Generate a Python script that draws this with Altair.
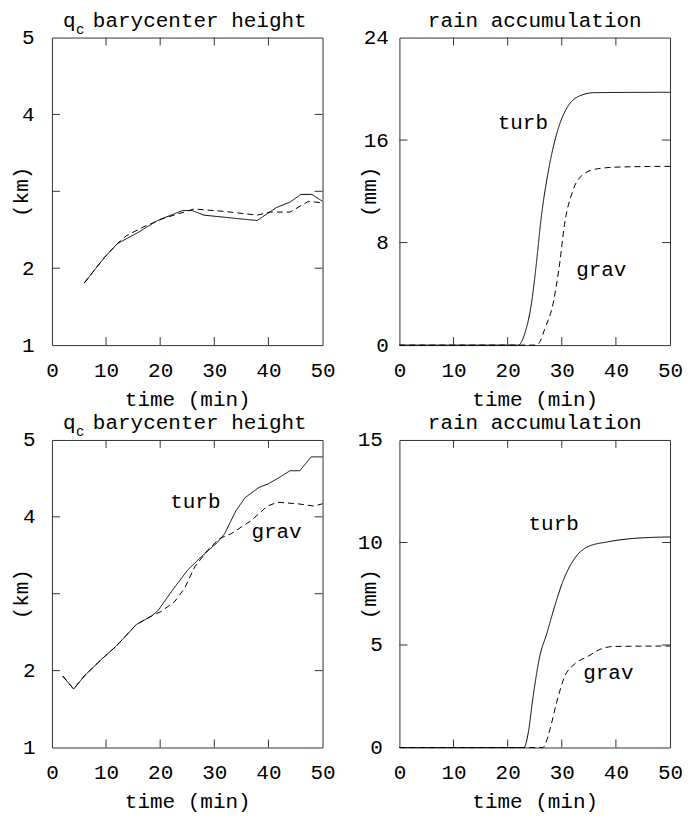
import altair as alt
import pandas as pd

FONT = "Liberation Mono"
FS = 21
W, H = 271, 308

# ---------------- data ----------------
# top-left: qc barycenter height (km), case 1
tl_turb_t = [6, 9.7, 12.1, 15.8, 19.5, 24.1, 25.9, 28.1, 37.9, 41.5, 44, 46, 48, 50]
tl_turb_v = [1.81, 2.14, 2.32, 2.46, 2.62, 2.75, 2.75, 2.69, 2.62, 2.79, 2.86, 2.96, 2.96, 2.87]
tl_grav_t = [6, 9.7, 12.1, 13.7, 17, 20.7, 24.4, 26.2, 31.7, 37.9, 40.3, 44, 47.4, 50]
tl_grav_v = [1.81, 2.14, 2.32, 2.42, 2.54, 2.65, 2.73, 2.77, 2.74, 2.69, 2.73, 2.73, 2.87, 2.85]

# top-right: rain accumulation (mm), case 1
tr_turb_t = [0, 22.0, 22.6, 23.2, 24.4, 25.3, 26.2, 27.4, 29.0, 30.8, 33.6, 36.0, 50]
tr_turb_v = [0, 0, 0.3, 0.95, 3.26, 6.35, 9.95, 13.3, 16.4, 18.4, 19.5, 19.7, 19.73]
tr_grav_t = [0, 25.4, 26.0, 26.8, 28.4, 29.6, 30.5, 32.0, 33.9, 36.6, 40.9, 50]
tr_grav_v = [0, 0, 0.3, 1.2, 3.26, 6.35, 9.4, 12.0, 13.3, 13.76, 13.9, 13.95]

# bottom-left: qc barycenter height (km), case 2
bl_turb_t = [2, 4, 6.1, 9.2, 11.9, 15.6, 18.4, 19.6, 22.1, 25.1, 27.6, 30.6, 31.9, 34.0,
             35.7, 38.2, 40.0, 42.2, 44.0, 45.8, 47.9, 50]
bl_turb_v = [1.93, 1.76, 1.94, 2.15, 2.32, 2.60, 2.71, 2.78, 3.03, 3.31, 3.48, 3.67, 3.78, 4.08,
             4.25, 4.38, 4.43, 4.52, 4.60, 4.60, 4.78, 4.78]
bl_grav_t = [2, 4, 6.1, 9.2, 11.9, 15.6, 18.4, 20.2, 22.7, 24.5, 26.4, 28.8, 31.0, 33.1,
             36.8, 39.8, 41.7, 45.4, 48.4, 50]
bl_grav_v = [1.93, 1.76, 1.94, 2.15, 2.32, 2.60, 2.71, 2.77, 2.90, 3.07, 3.35, 3.57, 3.72, 3.78,
             3.95, 4.14, 4.19, 4.17, 4.14, 4.17]

# bottom-right: rain accumulation (mm), case 2
br_turb_t = [0, 23.0, 23.8, 24.7, 25.9, 27.2, 28.7, 30.2, 32.4, 34.8, 38.5, 43.4, 50]
br_turb_v = [0, 0, 0.71, 2.48, 4.41, 5.53, 6.90, 8.10, 9.23, 9.79, 10.03, 10.2, 10.27]
br_grav_t = [0, 26.5, 27.8, 29.0, 30.5, 32.4, 34.8, 37.3, 39.7, 50]
br_grav_v = [0, 0, 0.87, 2.15, 3.44, 4.08, 4.44, 4.81, 4.93, 4.95]

# in-plot labels
tr_lab = ["turb", "grav"]; tr_lab_t = [22.8, 37.3]; tr_lab_v = [16.9, 5.4]
bl_lab = ["turb", "grav"]; bl_lab_t = [26.5, 41.5]; bl_lab_v = [4.11, 3.72]
br_lab = ["turb", "grav"]; br_lab_t = [28.5, 38.6]; br_lab_v = [10.6, 3.36]

x_labels = [0, 10, 20, 30, 40, 50]
x_ticks = [10, 20, 30, 40]
km_labels = [1, 2, 4, 5]
km_ticks = [2, 3, 4]
mm1_labels = [0, 8, 16, 24]
mm1_ticks = [8, 16]
mm2_labels = [0, 5, 10, 15]
mm2_ticks = [5, 10]


def lines_df(tt, tv, gt, gv):
    return pd.DataFrame({
        "t": list(tt) + list(gt),
        "v": list(tv) + list(gv),
        "series": ["turb"] * len(tt) + ["grav"] * len(gt),
    })


def panel(df, interp, ydom, ylabels, yticks, ytitle, lab_pad, labels=None, km_title=True):
    xenc = alt.X("t:Q", scale=alt.Scale(domain=[0, 50], nice=False),
                 axis=alt.Axis(values=x_labels, title="time (min)", ticks=False, domain=False,
                               grid=False, labelPadding=14, labelFlush=False, labelOverlap=False,
                               titleX=W / 2, titleY=54, titleAlign="center",
                               titleBaseline="middle"))
    yenc = alt.Y("v:Q", scale=alt.Scale(domain=ydom, nice=False, zero=False),
                 axis=alt.Axis(values=ylabels, title=ytitle, ticks=False, domain=False,
                               grid=False, labelPadding=lab_pad, labelFlush=False,
                               labelOverlap=False, titleX=-30, titleY=H / 2, titleAngle=-90,
                               titleAlign="center", titleBaseline="middle"))
    lines = alt.Chart(df).mark_line(color="black", strokeWidth=1, interpolate=interp).encode(
        x=xenc, y=yenc,
        strokeDash=alt.StrokeDash("series:N",
                                  scale=alt.Scale(domain=["turb", "grav"], range=[[1, 0], [6, 4]]),
                                  legend=None),
    )
    xt = pd.DataFrame({"t": x_ticks})
    yt = pd.DataFrame({"v": yticks})
    tick_col = "#333333"
    xb = alt.Chart(xt).mark_rule(color=tick_col, strokeWidth=1).encode(
        x=xenc, y=alt.value(H), y2=alt.value(H - 8))
    xtop = alt.Chart(xt).mark_rule(color=tick_col, strokeWidth=1).encode(
        x=xenc, y=alt.value(0), y2=alt.value(8))
    yl = alt.Chart(yt).mark_rule(color=tick_col, strokeWidth=1).encode(
        y=yenc, x=alt.value(0), x2=alt.value(8))
    yr = alt.Chart(yt).mark_rule(color=tick_col, strokeWidth=1).encode(
        y=yenc, x=alt.value(W), x2=alt.value(W - 8))
    layers = [lines, xb, xtop, yl, yr]
    if labels is not None:
        ldf = pd.DataFrame({"t": labels[1], "v": labels[2], "label": labels[0]})
        layers.append(alt.Chart(ldf).mark_text(font=FONT, fontSize=FS, color="black",
                                               align="center", baseline="alphabetic").encode(
            x=xenc, y=yenc, text="label:N"))
    if km_title:
        layers.append(alt.Chart(pd.DataFrame({"s": ["q"]})).mark_text(
            font=FONT, fontSize=FS, color="black", align="left", baseline="alphabetic").encode(
            text="s:N", x=alt.value(11), y=alt.value(-11)))
        layers.append(alt.Chart(pd.DataFrame({"s": ["c"]})).mark_text(
            font=FONT, fontSize=14, color="black", align="left", baseline="alphabetic").encode(
            text="s:N", x=alt.value(24), y=alt.value(-4)))
        layers.append(alt.Chart(pd.DataFrame({"s": ["barycenter height"]})).mark_text(
            font=FONT, fontSize=FS, color="black", align="left", baseline="alphabetic").encode(
            text="s:N", x=alt.value(41), y=alt.value(-11)))
    else:
        layers.append(alt.Chart(pd.DataFrame({"s": ["rain accumulation"]})).mark_text(
            font=FONT, fontSize=FS, color="black", align="center", baseline="alphabetic").encode(
            text="s:N", x=alt.value(W / 2), y=alt.value(-11)))
    return alt.layer(*layers).properties(width=W, height=H)


p1 = panel(lines_df(tl_turb_t, tl_turb_v, tl_grav_t, tl_grav_v), "linear", [1, 5],
           km_labels, km_ticks, "(km)", 18)
p2 = panel(lines_df(tr_turb_t, tr_turb_v, tr_grav_t, tr_grav_v), "monotone", [0, 24],
           mm1_labels, mm1_ticks, "(mm)", 11, labels=(tr_lab, tr_lab_t, tr_lab_v), km_title=False)
p3 = panel(lines_df(bl_turb_t, bl_turb_v, bl_grav_t, bl_grav_v), "linear", [1, 5],
           km_labels, km_ticks, "(km)", 17, labels=(bl_lab, bl_lab_t, bl_lab_v))
p4 = panel(lines_df(br_turb_t, br_turb_v, br_grav_t, br_grav_v), "monotone", [0, 15],
           mm2_labels, mm2_ticks, "(mm)", 17, labels=(br_lab, br_lab_t, br_lab_v), km_title=False)

chart = alt.concat(p1, p2, p3, p4, columns=2, spacing={"row": 95, "column": 77},
                   bounds="flush").properties(
    padding={"left": 2, "top": 0, "right": 0, "bottom": 0}
).configure(background="white").configure_axis(
    labelFont=FONT, titleFont=FONT, labelFontSize=FS, titleFontSize=FS,
    labelColor="black", titleColor="black", titleFontWeight="normal",
).configure_view(stroke="#333333", strokeWidth=1)

chart.save("out.html", embed_options={"renderer": "svg", "actions": False})
